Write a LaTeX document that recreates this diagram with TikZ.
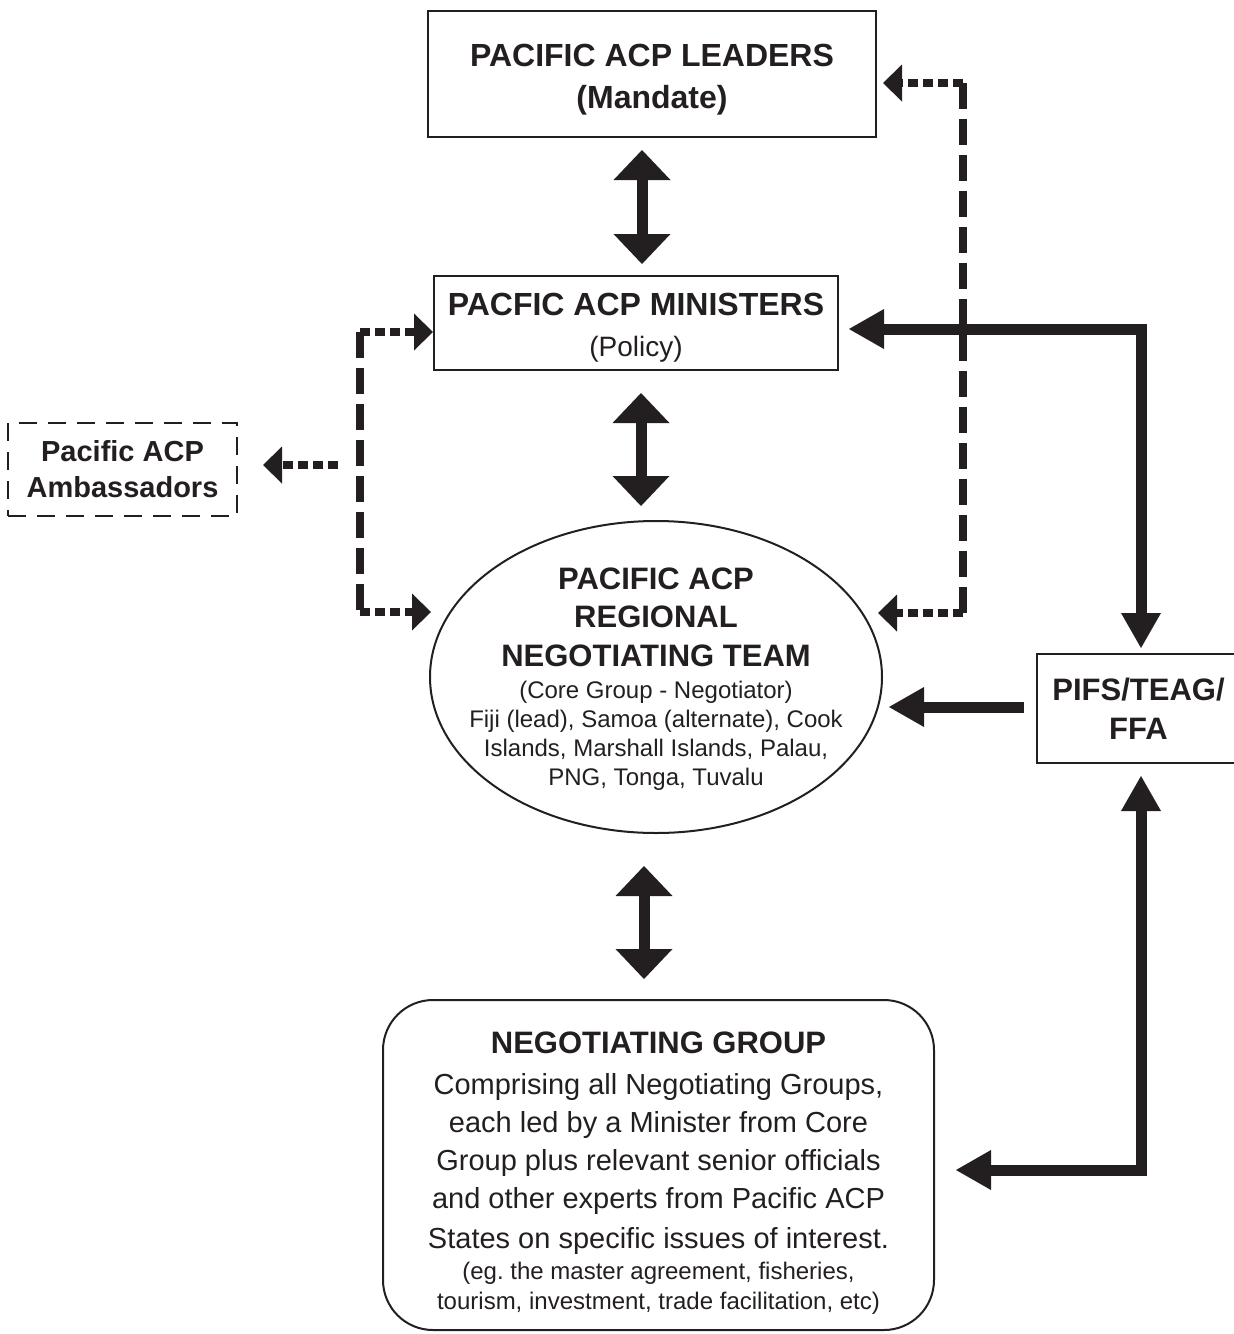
\documentclass[tikz,border=0pt]{standalone}
\usepackage{fontspec}
\setmainfont{Liberation Sans}
\usetikzlibrary{arrows.meta,shapes.geometric}
\definecolor{ink}{HTML}{231F20}
\newcommand\fixsp{\frenchspacing\spaceskip=0.278em\relax\xspaceskip=0.278em\relax}
\tikzset{
  BigT/.tip={Triangle[length=35pt,width=40pt,line width=0pt]},
  DblT/.tip={Triangle[length=30pt,width=57pt,line width=0pt]},
  SmT/.tip={Triangle[length=19pt,width=37pt,line width=0pt]},
  box/.style={draw=ink, line width=2pt, inner sep=0pt, align=center, text=ink},
  txt/.style={text=ink, inner sep=0pt, align=center},
  dbl/.style={draw=ink, line width=11pt, DblT-DblT},
  flow/.style={draw=ink, line width=11pt},
  dotline/.style={draw=ink, line width=8pt, dash pattern=on 10pt off 5pt},
  dashline/.style={draw=ink, line width=8pt, dash pattern=on 26pt off 10pt},
}
\begin{document}
\begin{tikzpicture}[x=1pt,y=-1pt]
\useasboundingbox (0,0) rectangle (1234,1334);

% boxes
\node[box, minimum width=448pt, minimum height=126pt,
      font=\bfseries\fontsize{32}{42}\selectfont] (leaders) at (652,74)
      {\rule{0pt}{33pt}PACIFIC ACP LEADERS\\(Mandate)};
\node[box, minimum width=404pt, minimum height=94pt, text width=400pt,
      font=\fontsize{32}{41}\selectfont] (ministers) at (636,323)
      {\rule{0pt}{31pt}{\bfseries\fixsp PACFIC ACP MINISTERS}\\{\fontsize{28}{41}\selectfont (Policy)}};
\node[box, dash pattern=on 18pt off 11pt, minimum width=229pt, minimum height=93pt,
      font=\bfseries\fontsize{29}{36}\selectfont] (ambass) at (122.5,469.5)
      {Pacific ACP\\Ambassadors};
\node[draw=ink, line width=2pt, ellipse, minimum width=452pt, minimum height=312pt,
      inner sep=0pt] (team) at (656,677) {};
\node[txt, text width=440pt, font=\fontsize{24}{29}\selectfont] (teamtxt) at (656,679)
  {{\bfseries\fontsize{31}{38.5}\selectfont\fixsp PACIFIC ACP\\REGIONAL\\NEGOTIATING TEAM\par}
   \vspace{3pt}
   {\fontsize{24}{29}\selectfont\fixsp (Core Group - Negotiator)\\Fiji (lead), Samoa (alternate), Cook\\Islands, Marshall Islands, Palau,\\PNG, Tonga, Tuvalu\par}};
\node[box, minimum width=203pt, minimum height=109pt,
      font=\bfseries\fontsize{31}{39}\selectfont] (pifs) at (1138.5,708.5)
      {PIFS/TEAG/\\FFA};
\node[draw=ink, line width=2pt, rounded corners=50pt, minimum width=551pt,
      minimum height=330pt, inner sep=0pt] (group) at (658.5,1165) {};
\node[txt, text width=530pt, font=\fontsize{29}{38}\selectfont] (grouptxt) at (658.5,1173)
  {{\bfseries\fontsize{31}{38}\selectfont\fixsp NEGOTIATING GROUP\par}
   \vspace{3pt}
   {\fontsize{29}{38}\selectfont\fixsp Comprising all Negotiating Groups,\\each led by a Minister from Core\\Group plus relevant senior officials\\and other experts from Pacific ACP\\[2pt]States on specific issues of interest.\par}
   \vspace{1pt}
   {\fontsize{24}{30}\selectfont\fixsp (eg. the master agreement, fisheries,\\tourism, investment, trade facilitation, etc)\par}};

% helper coordinates
\coordinate (ax1) at (642,0);
\coordinate (ax2) at (641,0);
\coordinate (ax3) at (644,0);
\coordinate (jA) at (1141,329);
\coordinate (yB) at (0,707);
\coordinate (jC) at (1141,1170);
\coordinate (c1) at (360,332);
\coordinate (c2) at (360,612);
\coordinate (c3) at (338,465);
\coordinate (d1) at (963,83);
\coordinate (d2) at (963,613);

% vertical double arrows
\draw[dbl, shorten <=12pt, shorten >=11pt] (ax1 |- leaders.south) -- (ax1 |- ministers.north);
\draw[dbl, shorten <=22pt, shorten >=14pt] (ax2 |- ministers.south) -- (ax2 |- team.north);
\draw[dbl, shorten <=32pt, shorten >=20pt] (ax3 |- team.south) -- (ax3 |- group.north);

% solid flows
\draw[flow, BigT-BigT, shorten <=10pt, shorten >=5pt] (jA -| ministers.east) -- (jA) -- (jA |- pifs.north);
\draw[flow, -BigT, shorten <=12pt, shorten >=6pt] (pifs.west |- yB) -- (team.east |- yB);
\draw[flow, BigT-BigT, shorten <=12pt, shorten >=21pt] (jC |- pifs.south) -- (jC) -- (jC -| group.east);

% dashed system, left
\draw[dashline] (c1) -- (c2);
\draw[dotline, -SmT] (c1) -- (c1 -| ministers.west);
\draw[dotline, -SmT, shorten >=-2pt] (c2) -- (c2 -| team.west);
\draw[dotline, -SmT, shorten >=25pt] (c3) -- (c3 -| ambass.east);

% dashed system, right
\draw[dashline] (d1) -- (d2);
\draw[dotline, -SmT, shorten >=6pt] (d1) -- (d1 -| leaders.east);
\draw[dotline, -SmT, shorten >=-5pt] (d2) -- (d2 -| team.east);
\end{tikzpicture}
\end{document}
